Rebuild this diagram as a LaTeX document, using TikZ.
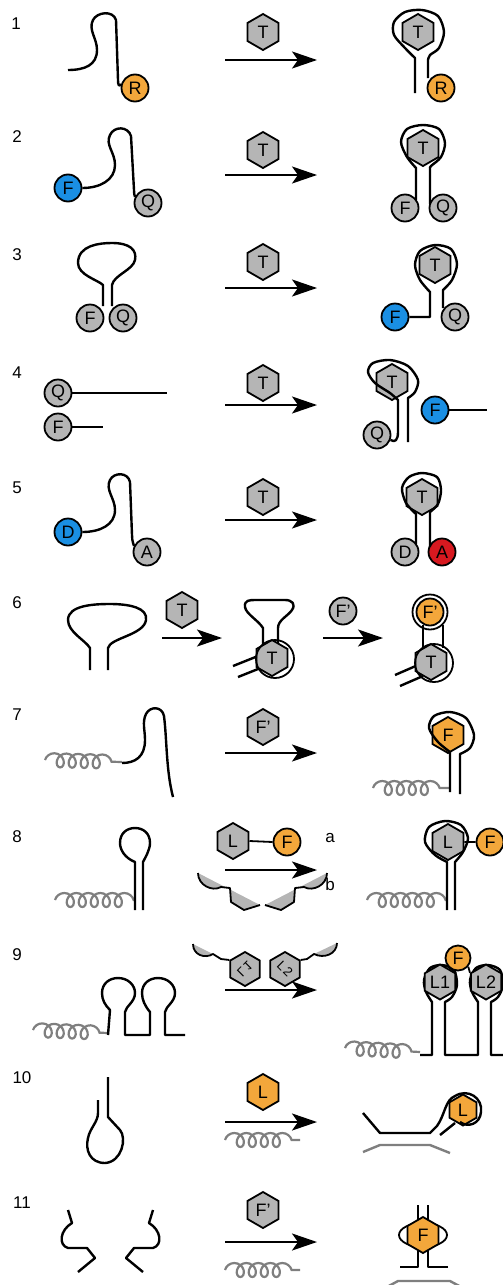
\documentclass[tikz,border=0pt]{standalone}
\usepackage{fontspec}
\setmainfont{Liberation Sans}
\usetikzlibrary{arrows.meta,shapes.geometric,decorations.pathmorphing}

\definecolor{dyeorange}{HTML}{F3A73B}
\definecolor{dyeblue}{HTML}{1A8FE3}
\definecolor{dyered}{HTML}{D71920}
\definecolor{partgray}{HTML}{B5B5B5}
\definecolor{coilgray}{HTML}{7F7F7F}

\tikzset{
  strand/.style={line width=2.4pt, line join=round},
  thinline/.style={line width=1.8pt, line join=round},
  hexg/.style={regular polygon, regular polygon sides=6, shape border rotate=30,
    minimum size=36pt, inner sep=0pt, draw, line width=1.8pt, fill=partgray,
    font=\fontsize{18}{18}\selectfont},
  hexo/.style={hexg, fill=dyeorange},
  dotg/.style={circle, minimum size=27pt, inner sep=0pt, draw, line width=1.8pt,
    fill=partgray, font=\fontsize{18}{18}\selectfont},
  doto/.style={dotg, fill=dyeorange},
  dotb/.style={dotg, fill=dyeblue},
  dotr/.style={dotg, fill=dyered},
  react/.style={line width=2.4pt, -{Stealth[length=25pt,width=17pt,inset=6pt]}},
  tail/.style={draw=coilgray, line width=2.2pt, decorate,
    decoration={coil, amplitude=7pt, segment length=12pt, aspect=0.9}},
  rownum/.style={font=\fontsize{17}{17}\selectfont},
}

\begin{document}
\begin{tikzpicture}[x=1pt, y=-1pt]
    \useasboundingbox (0,0) rectangle (503,1285);

    % 行号
    \foreach \n/\x/\y in {1/16/24, 2/17/137, 3/17/255, 4/17/373, 5/17/488, 6/17/603,
                          7/17/715, 8/17/837, 9/17/955, 10/22/1078, 11/22/1203}
        \node[rownum] (num\n) at (\x,\y) {\n};

    % 反应箭头
    \foreach \k/\y in {1/60, 2/175, 3/288, 4/405, 5/520, 7/753, 8/870, 9/990, 10/1122, 11/1242} {
        \coordinate (as\k) at (225,\y);
        \coordinate (ae\k) at (317,\y);
        \draw[react] (as\k) -- (ae\k);
    }

    % 第1行
    \node[doto] (r1a) at (135,88) {R};
    \draw[strand] (68,70) .. controls (85,70) and (97,65) .. (97,50)
        .. controls (97,38) and (88,30) .. (93,20) .. controls (97,12) and (113,10) .. (116,20)
        -- (118,80) .. controls (118,85) and (119,87) .. (r1a.165);
    \node[hexg] (t1a) at (263,32) {T};
    \node[hexg] (t1b) at (418,32) {T};
    \node[doto] (r1b) at (441,88) {R};
    \draw[strand] (415,93) -- plot[smooth] coordinates {(415,58) (405,48) (394,35) (394,22)
        (405,12) (422,10) (438,16) (444,32) (439,48) (430,55) (428,60)} -- (428,78);

    % 第2行
    \node[dotb] (f2a) at (68,188) {F};
    \node[dotg] (q2a) at (148,203) {Q};
    \draw[strand] (f2a.east) .. controls (100,188) and (115,180) .. (115,165)
        .. controls (115,152) and (105,145) .. (110,135) .. controls (114,126) and (128,126) .. (131,136)
        -- (134,190) .. controls (134,195) and (135,196) .. (q2a.155);
    \node[hexg] (t2a) at (263,150) {T};
    \node[hexg] (t2b) at (423,148) {T};
    \node[dotg] (f2b) at (405,208) {F};
    \node[dotg] (q2b) at (443,208) {Q};
    \draw[strand] (416,200) -- plot[smooth] coordinates {(416,168) (407,157) (401,142) (407,129)
        (423,125) (439,129) (445,143) (441,157) (431,166) (430,168)} -- (430,204);

    % 第3行
    \node[dotg] (f3a) at (90,318) {F};
    \node[dotg] (q3a) at (123,318) {Q};
    \draw[strand] (103,306) -- (103,285) .. controls (98,280) and (78,275) .. (78,263)
        .. controls (78,245) and (100,243) .. (112,243) .. controls (130,243) and (137,250) .. (135,260)
        .. controls (133,270) and (114,275) .. (112,285) -- (112,306);
    \node[hexg] (t3a) at (263,262) {T};
    \node[hexg] (t3b) at (435,265) {T};
    \node[dotb] (f3b) at (395,317) {F};
    \node[dotg] (q3b) at (455,317) {Q};
    \draw[strand] (f3b.east) -- (430,317) -- plot[smooth] coordinates {(430,292) (420,280) (415,265)
        (420,251) (435,245) (451,249) (457,264) (452,280) (443,290)} -- (443,308);

    % 第4行
    \node[dotg] (q4a) at (58,393) {Q};
    \node[dotg] (f4a) at (58,427) {F};
    \draw[strand] (q4a.east) -- (167,393);
    \draw[strand] (f4a.east) -- (103,427);
    \node[hexg] (t4a) at (263,383) {T};
    \node[hexg] (t4b) at (392,382) {T};
    \node[dotg] (q4b) at (377,435) {Q};
    \draw[strand] (q4b.-20) .. controls (395,443) and (398,440) .. (398,432)
        -- plot[smooth] coordinates {(398,400) (390,393) (375,383) (368,372) (373,363) (390,360)
        (408,366) (418,380) (415,392) (408,398)} -- (408,442);
    \node[dotb] (f4b) at (435,410) {F};
    \draw[strand] (f4b.east) -- (487,410);

    % 第5行
    \node[dotb] (d5a) at (68,532) {D};
    \node[dotg] (a5a) at (147,552) {A};
    \draw[strand] (d5a.east) .. controls (100,532) and (115,525) .. (115,510)
        .. controls (115,498) and (105,490) .. (110,480) .. controls (114,472) and (128,472) .. (130,482)
        -- (132,535) .. controls (132,542) and (134,545) .. (a5a.155);
    \node[hexg] (t5a) at (263,497) {T};
    \node[hexg] (t5b) at (422,497) {T};
    \node[dotg] (d5b) at (405,552) {D};
    \node[dotr] (a5b) at (442,552) {A};
    \draw[strand] (416,544) -- plot[smooth] coordinates {(416,514) (406,503) (402,488) (409,477)
        (422,473) (437,477) (441,490) (438,504) (430,512)} -- (430,547);

    % 第6行
    \draw[strand] (90,670) -- (90,648) .. controls (85,640) and (68,632) .. (68,620)
        .. controls (68,605) and (95,604) .. (110,604) .. controls (130,604) and (148,608) .. (146,620)
        .. controls (144,635) and (110,638) .. (108,648) -- (108,670);
    \coordinate (bs6) at (162,638);
    \coordinate (be6) at (222,638);
    \draw[react] (bs6) -- (be6);
    \node[hexg] (t6a) at (182,610) {T};
    % 中间产物
    \draw[strand] (233,666) -- (258,656);
    \draw[strand] (238,677) -- (263,667);
    \draw[strand] (263,645) -- (263,628) .. controls (258,620) and (246,614) .. (245,607)
        .. controls (244,600) and (250,600) .. (255,600) -- (285,600)
        .. controls (292,600) and (296,604) .. (292,610) .. controls (288,616) and (278,620) .. (278,628)
        -- (278,645);
    \node[hexg] (t6b) at (272,658) {T};
    \draw[thinline] (275,659) circle (19);
    \coordinate (cs6) at (323,638);
    \coordinate (ce6) at (383,638);
    \draw[react] (cs6) -- (ce6);
    \node[dotg] (p6a) at (343,611) {F'};
    % 右侧产物
    \draw[strand] (395,675) -- (418,665);
    \draw[strand] (400,686) -- (423,676);
    \draw[strand] (423,625) -- (423,648);
    \draw[strand] (443,625) -- (443,648);
    \node[hexg] (t6c) at (431,662) {T};
    \draw[thinline] (434,663) circle (19);
    \node[doto] (p6b) at (430,612) {F'};
    \draw[thinline] (p6b) circle (17.5);

    % 第7行
    \path[tail] (45,760) -- (122,762);
    \draw[strand] (122,763) .. controls (135,763) and (145,757) .. (145,740)
        .. controls (145,730) and (142,722) .. (146,714) .. controls (150,706) and (162,706) .. (164,716)
        .. controls (167,740) and (166,770) .. (173,797);
    \node[hexg] (p7a) at (263,727) {F'};
    \node[hexo] (f7b) at (448,735) {F};
    \path[tail] (373,788) -- (450,788);
    \draw[strand] (450,792) -- plot[smooth] coordinates {(450,752) (438,742) (429,728) (434,716)
        (450,712) (466,718) (474,735) (470,748) (460,754)} -- (460,794);

    % 第8行
    \path[tail] (55,900) -- (135,900);
    \draw[strand] (135,910) -- (135,862) .. controls (125,858) and (120,850) .. (120,843)
        .. controls (120,833) and (127,828) .. (135,828) .. controls (143,828) and (150,833) .. (150,843)
        .. controls (150,850) and (145,858) .. (143,862) -- (143,910);
    \node[hexg] (l8a) at (233,841) {L};
    \node[doto] (f8a) at (287,842) {F};
    \draw[thinline] (l8a.east) -- (f8a.west);
    \node[font=\fontsize{17}{17}\selectfont] (la8) at (330,838) {a};
    \node[font=\fontsize{17}{17}\selectfont] (lb8) at (330,884) {b};
    % 受体的两半
    \fill[partgray] (198,873) .. controls (198,885) and (212,892) .. (221,887) -- (230,888)
        -- (231,902) -- (244,910) -- (260,905) -- cycle;
    \draw[thinline] (198,873) .. controls (198,885) and (212,892) .. (221,887) -- (230,888)
        -- (231,902) -- (244,910) -- (260,905);
    \fill[partgray] (327,873) .. controls (327,885) and (313,892) .. (304,887) -- (295,888)
        -- (294,902) -- (281,910) -- (265,905) -- cycle;
    \draw[thinline] (327,873) .. controls (327,885) and (313,892) .. (304,887) -- (295,888)
        -- (294,902) -- (281,910) -- (265,905);
    \node[hexg] (l8b) at (448,842) {L};
    \node[doto] (f8b) at (490,842) {F};
    \draw[thinline] (l8b.east) -- (f8b.west);
    \path[tail] (367,900) -- (447,900);
    \draw[strand] (447,910) -- plot[smooth] coordinates {(447,862) (435,855) (425,842) (429,827)
        (445,821) (461,825) (468,838) (463,852) (455,862)} -- (455,910);

    % 第9行
    \path[tail] (33,1030) -- (108,1033);
    \draw[strand] (108,1035) -- (110,1010) .. controls (105,1005) and (102,1000) .. (102,993)
        .. controls (102,983) and (110,978) .. (118,978) .. controls (128,978) and (135,985) .. (135,993)
        .. controls (135,1002) and (126,1006) .. (125,1012) -- (125,1035) -- (150,1035) -- (150,1012)
        .. controls (145,1006) and (142,1000) .. (142,993) .. controls (142,983) and (150,978) .. (158,978)
        .. controls (168,978) and (175,985) .. (175,993) .. controls (175,1002) and (166,1006) .. (165,1012)
        -- (165,1035) -- (185,1035);
    \node[hexg, minimum size=34pt, font=\fontsize{13}{13}\selectfont] (l9a) at (245,969)
        {\scalebox{1}[-1]{\rotatebox{-45}{L\kern1.5pt 1}}};
    \node[hexg, minimum size=34pt, font=\fontsize{13}{13}\selectfont] (l9b) at (285,969)
        {\rotatebox{-45}{L\kern1.5pt 2}};
    \fill[partgray] (193,944) .. controls (193,955) and (205,959) .. (213,954) -- cycle;
    \draw[thinline] (193,944) .. controls (193,955) and (205,959) .. (213,954) -- (221,959) -- (l9a.corner 2);
    \fill[partgray] (337,943) .. controls (337,954) and (324,959) .. (314,954) -- cycle;
    \draw[thinline] (337,943) .. controls (337,954) and (324,959) .. (314,954) -- (307,959) -- (l9b.corner 6);
    % 右侧产物
    \path[tail] (345,1048) -- (420,1052);
    \draw[strand] (420,1055) -- (432,1055) -- plot[smooth] coordinates {(432,1002) (426,992) (424,980)
        (430,968) (442,965) (454,970) (457,985) (452,997) (445,1002)} -- (445,1055) -- (478,1055)
        -- plot[smooth] coordinates {(478,1002) (472,992) (470,980) (476,968) (488,965) (500,970)
        (503,985) (498,997) (491,1002)} -- (491,1055) -- (505,1055);
    \node[hexg, minimum size=35pt] (l9c) at (440,982) {L1};
    \node[hexg, minimum size=35pt] (l9d) at (486,982) {L2};
    \node[doto, minimum size=25pt] (f9c) at (458,958) {F};
    \draw[thinline] (f9c.220) -- (l9c.corner 6);
    \draw[thinline] (f9c.320) -- (l9d.corner 2);

    % 第10行
    \draw[strand] (108,1077) -- (108,1117) -- (120,1130) .. controls (127,1138) and (122,1162) .. (105,1163)
        .. controls (90,1163) and (85,1150) .. (88,1138) .. controls (90,1128) and (98,1122) .. (98,1113)
        -- (98,1100);
    \node[hexo] (l10a) at (263,1092) {L};
    \path[tail] (225,1140) -- (300,1140);
    \node[hexo, minimum size=31pt] (l10b) at (463,1110) {L};
    \draw[strand] (363,1113) -- (380,1133) -- (430,1133) -- (437,1126)
        .. controls (445,1115) and (445,1100) .. (455,1096) .. controls (468,1088) and (483,1098) .. (481,1112)
        .. controls (480,1124) and (468,1128) .. (460,1122);
    \draw[strand] (440,1135) -- (455,1123);
    \draw[strand, coilgray] (363,1152) -- (380,1145) -- (430,1145) -- (450,1153);

    % 第11行
    \draw[strand] (68,1210) -- (72,1223) .. controls (60,1230) and (58,1245) .. (68,1248)
        -- (87,1248) -- (95,1258) -- (78,1272);
    \draw[strand] (153,1210) -- (149,1223) .. controls (161,1230) and (163,1245) .. (153,1248)
        -- (134,1248) -- (126,1258) -- (143,1272);
    \node[hexg] (p11a) at (263,1210) {F'};
    \path[tail] (225,1270) -- (300,1270);
    \draw[strand] (418,1205) -- (418,1225);
    \draw[strand] (428,1205) -- (428,1225);
    \draw[strand] (400,1267) -- (418,1267) -- (418,1245);
    \draw[strand] (448,1267) -- (428,1267) -- (428,1245);
    \draw[thinline] (423,1235) ellipse (24 and 12);
    \node[hexo] (f11b) at (423,1235) {F};
    \draw[strand, coilgray] (385,1288) -- (398,1281) -- (450,1281) -- (463,1288);
\end{tikzpicture}
\end{document}
